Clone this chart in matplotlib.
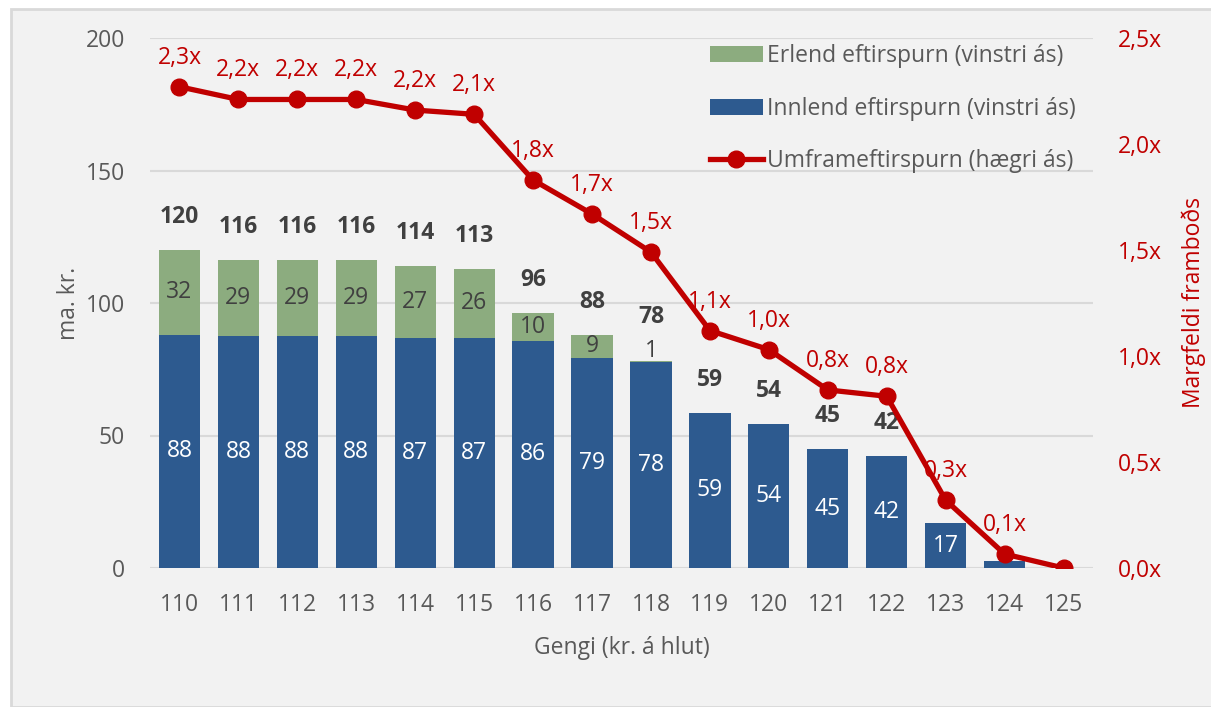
import matplotlib.pyplot as plt
import numpy as np
from matplotlib.patches import Rectangle
from matplotlib.lines import Line2D

plt.rcParams['font.family'] = ['Open Sans', 'DejaVu Sans']

# Gögn lesin af myndinni
gengi = ['110', '111', '112', '113', '114', '115', '116', '117', '118',
         '119', '120', '121', '122', '123', '124', '125']
innlend = [88.0, 87.6, 87.6, 87.6, 86.8, 86.7, 85.8, 79.3, 77.6,
           58.6, 54.2, 44.8, 42.3, 16.8, 2.8, 0.0]
erlend = [32.0, 28.7, 28.7, 28.7, 27.0, 26.3, 10.3, 8.7, 0.6,
          0, 0, 0, 0, 0, 0, 0]
margfeldi = [2.27, 2.21, 2.21, 2.21, 2.16, 2.14, 1.83, 1.67, 1.49,
             1.12, 1.03, 0.84, 0.81, 0.32, 0.066, 0.0]

green = '#8cac7f'
blue = '#2d5a8f'
red = '#c00000'
grey = '#595959'
dark = '#404040'
fs = 16.5

fig = plt.figure(figsize=(12.11, 7.07), dpi=100, facecolor='white')
fig.patches.append(Rectangle((11 / 1211, 0), 1, 1 - 9 / 707, transform=fig.transFigure,
                             facecolor='#f2f2f2', edgecolor='#d9d9d9', linewidth=2, zorder=-10))

ax = fig.add_axes([150 / 1211, 139 / 707, 943 / 1211, 530 / 707])
ax.set_facecolor('none')
x = np.arange(len(gengi))
innlend = np.array(innlend)
erlend = np.array(erlend)
total = innlend + erlend

b1 = ax.bar(x, innlend, width=0.7, color=blue, zorder=3)
b2 = ax.bar(x, erlend, width=0.7, bottom=innlend, color=green, zorder=3)

ax.set_ylim(0, 200)
ax.set_xlim(-0.5, len(gengi) - 0.5)
ax.set_yticks([0, 50, 100, 150, 200])
ax.set_xticks(x)
ax.set_xticklabels(gengi)
ax.grid(axis='y', color='#d9d9d9', linewidth=1.5, zorder=0)
ax.set_axisbelow(True)
for s in ax.spines.values():
    s.set_visible(False)
ax.tick_params(length=0, labelsize=fs, colors=grey, pad=18)
ax.set_ylabel('ma. kr.', fontsize=fs, color=grey, labelpad=3)
ax.set_xlabel('Gengi (kr. á hlut)', fontsize=fs, color=grey, labelpad=14)

# gildi inni í súlum og samtölur ofan á
for i in range(len(gengi)):
    if innlend[i] >= 5:
        ax.text(x[i], innlend[i] / 2, f'{innlend[i]:.0f}', ha='center', va='center',
                color='white', fontsize=fs, zorder=4)
    extra = 0
    if erlend[i] > 0:
        if erlend[i] >= 3:
            ax.text(x[i], innlend[i] + erlend[i] / 2, f'{erlend[i]:.0f}', ha='center',
                    va='center', color=dark, fontsize=fs, zorder=4)
        else:
            ax.annotate(f'{erlend[i]:.0f}', (x[i], total[i]), xytext=(0, 10),
                        textcoords='offset pixels', ha='center', va='center',
                        color=dark, fontsize=fs, zorder=4)
            extra = 11
    if total[i] >= 20:
        ax.annotate(f'{total[i]:.0f}', (x[i], total[i]), xytext=(0, 33 + extra),
                    textcoords='offset pixels', ha='center', va='center',
                    color=dark, fontsize=fs, fontweight='bold', zorder=4)

ax2 = ax.twinx()
ax2.plot(x, margfeldi, color=red, linewidth=3.8, marker='o', markersize=12, zorder=5)
ax2.set_ylim(0, 2.5)
ax2.set_yticks([0, 0.5, 1.0, 1.5, 2.0, 2.5])
ax2.set_yticklabels([f'{v:.1f}'.replace('.', ',') + 'x' for v in [0, 0.5, 1.0, 1.5, 2.0, 2.5]])
for s in ax2.spines.values():
    s.set_visible(False)
ax2.tick_params(length=0, labelsize=fs, colors=red, pad=18)
ax2.set_ylabel('Margfeldi framboðs', fontsize=fs, color=red, labelpad=14)

for i, v in enumerate(margfeldi):
    if v > 0:
        ax2.annotate(f'{v:.1f}'.replace('.', ',') + 'x', (x[i], v), xytext=(0, 29),
                     textcoords='offset pixels', ha='center', va='center',
                     color=red, fontsize=fs)

line_handle = Line2D([], [], color=red, linewidth=3.8, marker='o', markersize=12)
leg = ax2.legend([b2, b1, line_handle],
                 ['Erlend eftirspurn (vinstri ás)', 'Innlend eftirspurn (vinstri ás)',
                  'Umframeftirspurn (hægri ás)'],
                 loc='upper left', bbox_to_anchor=(710 / 1211, 1 - 44 / 707),
                 bbox_transform=fig.transFigure, frameon=False, fontsize=fs,
                 handlelength=2.3, handleheight=0.7, handletextpad=0.2,
                 labelspacing=1.25, borderpad=0, borderaxespad=0)
for t in leg.get_texts():
    t.set_color(grey)

fig.savefig('out.png', dpi=100, facecolor=fig.get_facecolor())
